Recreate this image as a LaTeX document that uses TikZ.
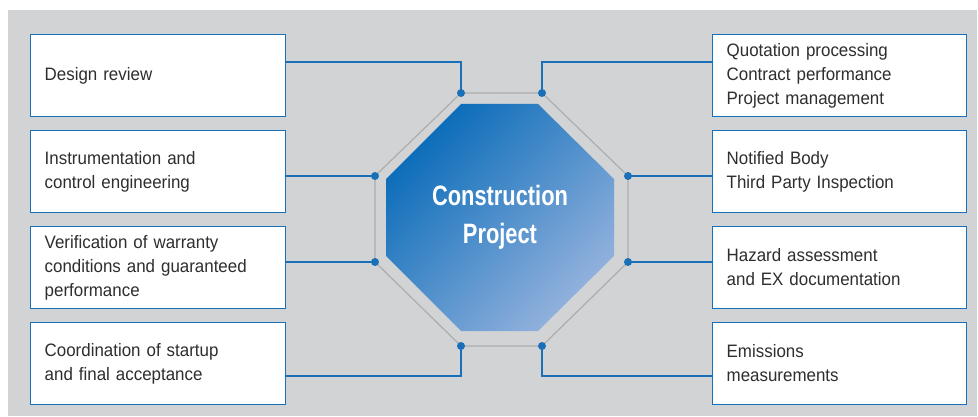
\documentclass[tikz,border=0pt]{standalone}
\usepackage{fontspec}
\usepackage{tikz}
\usetikzlibrary{positioning}
\usetikzlibrary{calc}
\newfontfamily\boxfont[FakeStretch=0.94]{Liberation Sans}
\newfontfamily\hubfont[FakeStretch=0.78]{Liberation Sans}
\definecolor{panelgray}{HTML}{D1D3D4}
\definecolor{linkblue}{HTML}{1A70B8}
\definecolor{rimgray}{HTML}{ADADAD}
\definecolor{hubdark}{HTML}{0A6CB9}
\definecolor{hublight}{HTML}{94B2DD}
\definecolor{inkgray}{HTML}{2E2E2E}
\tikzset{
  task/.style={draw=linkblue, line width=1.4pt, fill=white, rectangle,
    minimum width=254.6pt, minimum height=81.6pt, inner xsep=14pt,
    text width=226.6pt, align=left, text=inkgray,
    font=\boxfont\fontsize{18}{24}\selectfont},
  link/.style={draw=linkblue, line width=1.3pt},
  dot/.style={fill=linkblue, circle, inner sep=0pt, minimum size=8pt},
  hubtext/.style={align=center, text=white,
    font=\hubfont\bfseries\fontsize{28}{38}\selectfont}
}
\begin{document}
\begin{tikzpicture}[x=1pt, y=1pt, node distance=13pt]

  % Background
  \useasboundingbox (0,0) rectangle (978,416);
  \fill[panelgray] (8,0) rectangle (977,406);

  % Octagon corners
  \coordinate (oNW) at (461,323);
  \coordinate (oNE) at (542,323);
  \coordinate (oEN) at (628,240);
  \coordinate (oES) at (628,154);
  \coordinate (oSE) at (542,70);
  \coordinate (oSW) at (461,70);
  \coordinate (oWS) at (375,154);
  \coordinate (oWN) at (375,240);

  \draw[rimgray, line width=1.2pt] (oNW) -- (oNE) -- (oEN) -- (oES)
    -- (oSE) -- (oSW) -- (oWS) -- (oWN) -- cycle;
  \shade[top color=hubdark, bottom color=hublight, shading angle=45]
    (461,312) -- (538,312) -- (614,237) -- (614,160) -- (538,85)
    -- (461,85) -- (386,160) -- (386,237) -- cycle;
  \node[hubtext] (hub) at (500,199) {Construction\\Project};

  % Nodes
  \node[task] (design) at (158,340.5) {Design review};
  \node[task, below=of design] (control) {Instrumentation and\\control engineering};
  \node[task, below=of control] (warranty) {Verification of warranty\\conditions and guaranteed\\performance};
  \node[task, below=of warranty] (startup) {Coordination of startup\\and final acceptance};

  \node[task, minimum width=253.6pt, text width=225.6pt] (quote) at (839.5,340.5)
    {Quotation processing\\Contract performance\\Project management};
  \node[task, minimum width=253.6pt, text width=225.6pt, below=of quote] (notified)
    {Notified Body\\Third Party Inspection};
  \node[task, minimum width=253.6pt, text width=225.6pt, below=of notified] (hazard)
    {Hazard assessment\\and EX documentation};
  \node[task, minimum width=253.6pt, text width=225.6pt, below=of hazard] (emission)
    {Emissions\\measurements};

  % Manually draw edges
  \draw[link] ([yshift=13.5pt]design.east) -| (oNW);
  \draw[link] (oWN -| control.east) -- (oWN);
  \draw[link] (oWS -| warranty.east) -- (oWS);
  \draw[link] ([yshift=-12.5pt]startup.east) -| (oSW);
  \draw[link] ([yshift=13.5pt]quote.west) -| (oNE);
  \draw[link] (oEN -| notified.west) -- (oEN);
  \draw[link] (oES -| hazard.west) -- (oES);
  \draw[link] ([yshift=-12.5pt]emission.west) -| (oSE);

  \foreach \c in {oNW,oNE,oEN,oES,oSE,oSW,oWS,oWN}
    \node[dot] at (\c) {};

\end{tikzpicture}
\end{document}
